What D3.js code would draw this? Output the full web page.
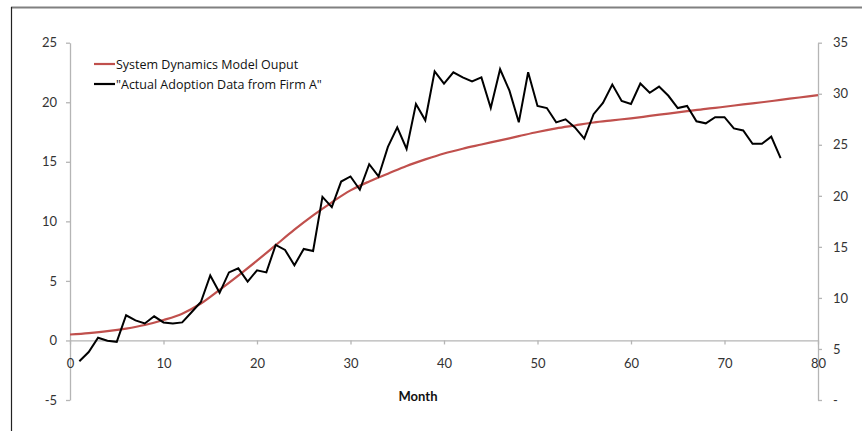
<!DOCTYPE html>
<html>
<head>
<meta charset="utf-8">
<script src="https://cdn.jsdelivr.net/npm/d3@7/dist/d3.min.js"></script>
<style>
  html, body { margin: 0; padding: 0; background: #fff; }
  svg { display: block; }
</style>
</head>
<body>
<svg id="chart" width="862" height="431"></svg>
<script>
// ---- data ----
const modelMonths = [0,2,4,6,8,10,12,14,16,18,20,22,24,26,28,30,32,34,36,38,40,42,44,46,48,50,52,54,56,58,60,62,64,66,68,70,72,74,76,78,80];
const modelValues = [0.5,0.62,0.78,1.0,1.3,1.72,2.25,3.1,4.25,5.45,6.7,8.0,9.3,10.5,11.6,12.6,13.35,14.0,14.65,15.2,15.7,16.1,16.45,16.8,17.15,17.5,17.8,18.05,18.3,18.48,18.65,18.85,19.05,19.25,19.45,19.62,19.82,20.0,20.2,20.4,20.6];

const actualMonths = d3.range(1, 77);
const actualValues = [3.8,4.7,6.1,5.8,5.7,8.3,7.8,7.5,8.2,7.6,7.5,7.6,8.6,9.6,12.2,10.5,12.5,12.9,11.6,12.7,12.5,15.2,14.7,13.2,14.8,14.6,19.9,18.9,21.4,21.9,20.6,23.1,21.9,24.8,26.7,24.6,29.0,27.4,32.2,31.0,32.1,31.6,31.2,31.6,28.6,32.4,30.3,27.2,32.1,28.8,28.6,27.2,27.5,26.7,25.6,28.0,29.1,30.9,29.3,29.0,31.0,30.1,30.7,29.8,28.6,28.8,27.3,27.1,27.7,27.7,26.6,26.4,25.1,25.1,25.8,23.7];

const xTicks = [0,10,20,30,40,50,60,70,80];
const leftTicks = [-5,0,5,10,15,20,25];
const leftTickLabels = ["-5","0","5","10","15","20","25"];
const rightTicks = [0,5,10,15,20,25,30,35];
const rightTickLabels = ["-","5","10","15","20","25","30","35"];

const seriesNames = ["System Dynamics Model Ouput", "\"Actual Adoption Data from Firm A\""];
const seriesColors = ["#c0504d", "#000000"];
const xTitle = "Month";

// ---- drawing ----
const svg = d3.select("#chart");
const x = d3.scaleLinear().domain([0, 80]).range([70, 818]);
const yL = d3.scaleLinear().domain([-5, 25]).range([400, 42.7]);
const yR = d3.scaleLinear().domain([0, 35]).range([400, 42.7]);
const axisColor = "#b5b5b5";
const textColor = "#333";
const tickFont = "Lato, 'Open Sans', sans-serif";
const legendFont = "'Open Sans', Lato, sans-serif";

// frame
svg.append("line").attr("x1", 11).attr("x2", 862).attr("y1", 7.5).attr("y2", 7.5)
  .attr("stroke", "#808080").attr("stroke-width", 2);
svg.append("line").attr("x1", 11.5).attr("x2", 11.5).attr("y1", 7).attr("y2", 431)
  .attr("stroke", "#222").attr("stroke-width", 1.2);

function styleAxis(g) {
  g.selectAll("path, line").attr("stroke", axisColor).attr("stroke-width", 1.3);
  g.selectAll("text").attr("fill", textColor).style("font-size", "13px")
    .style("font-family", tickFont);
}

// left axis
svg.append("g").attr("transform", `translate(${x(0)},0)`)
  .call(d3.axisLeft(yL).tickValues(leftTicks).tickSize(4).tickSizeOuter(0).tickPadding(9)
    .tickFormat((d, i) => leftTickLabels[i]))
  .call(styleAxis);

// right axis
svg.append("g").attr("transform", `translate(${x(80)},0)`)
  .call(d3.axisRight(yR).tickValues(rightTicks).tickSize(4).tickSizeOuter(0).tickPadding(11)
    .tickFormat((d, i) => rightTickLabels[i]))
  .call(styleAxis);

// x axis at y=0
svg.append("g").attr("transform", `translate(0,${yL(0)})`)
  .call(d3.axisBottom(x).tickValues(xTicks).tickSize(4).tickSizeOuter(0).tickPadding(14))
  .call(styleAxis);

// x title
svg.append("text").attr("x", 418).attr("y", 401).attr("text-anchor", "middle")
  .style("font-size", "13px").style("font-family", tickFont).style("font-weight", "bold")
  .attr("fill", "#111").text(xTitle);

// lines
const modelLine = d3.line().x((d, i) => x(modelMonths[i])).y(d => yL(d)).curve(d3.curveMonotoneX);
svg.append("path").datum(modelValues).attr("d", modelLine)
  .attr("fill", "none").attr("stroke", seriesColors[0]).attr("stroke-width", 2.2);

const actualLine = d3.line().x((d, i) => x(actualMonths[i])).y(d => yR(d));
svg.append("path").datum(actualValues).attr("d", actualLine)
  .attr("fill", "none").attr("stroke", seriesColors[1]).attr("stroke-width", 2)
  .attr("stroke-linejoin", "miter");

// legend
const legendY = [64, 84];
seriesNames.forEach((name, i) => {
  svg.append("line").attr("x1", 94).attr("x2", 115).attr("y1", legendY[i]).attr("y2", legendY[i])
    .attr("stroke", seriesColors[i]).attr("stroke-width", 2.2);
  svg.append("text").attr("x", 116).attr("y", legendY[i] + 4.5)
    .style("font-size", "12.5px").style("font-family", legendFont)
    .attr("fill", "#111").text(name);
});
</script>
</body>
</html>
